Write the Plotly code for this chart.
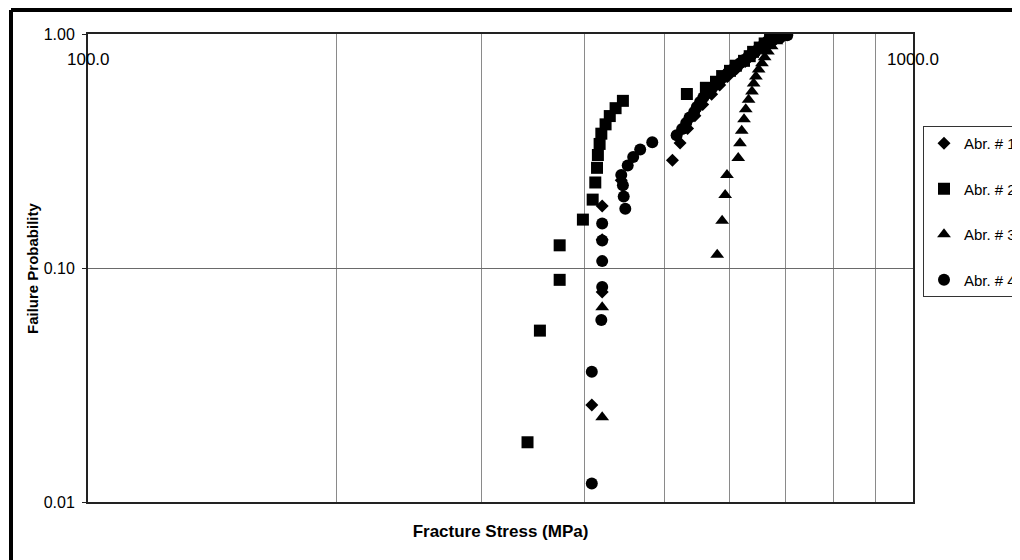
import numpy as np
import plotly.graph_objects as go

# ---- data ----
abr1_stress = [408, 420, 420, 420, 443, 511, 522, 533, 544, 556, 570, 583, 596, 611, 626, 638, 648, 661, 694]
abr1_prob = [0.026, 0.079, 0.132, 0.184, 0.237, 0.289, 0.342, 0.395, 0.447, 0.500, 0.553, 0.605, 0.658,
             0.711, 0.763, 0.816, 0.868, 0.921, 0.974]

abr2_stress = [341, 353, 373, 373, 398, 409, 412, 414, 415, 417, 419, 424, 429, 436, 445, 532, 561, 577,
               587, 600, 610, 624, 634, 640, 652, 661, 671, 682]
abr2_prob = [0.018, 0.054, 0.089, 0.125, 0.161, 0.196, 0.232, 0.268, 0.304, 0.339, 0.375, 0.411, 0.446,
             0.482, 0.518, 0.554, 0.589, 0.625, 0.661, 0.696, 0.732, 0.768, 0.804, 0.839, 0.875, 0.911,
             0.946, 0.982]

abr3_stress = [420, 420, 579, 587, 592, 595, 614, 617, 620, 624, 627, 632, 638, 641, 645, 650, 656, 661,
               667, 674, 683, 700]
abr3_prob = [0.023, 0.068, 0.114, 0.159, 0.205, 0.250, 0.295, 0.341, 0.386, 0.432, 0.477, 0.523, 0.568,
             0.614, 0.659, 0.705, 0.750, 0.795, 0.841, 0.886, 0.932, 0.977]

abr4_stress = [408, 408, 419, 420, 420, 420, 420, 448, 446, 445, 443, 451, 458, 467, 483, 517, 525, 531,
               536, 543, 547, 552, 557, 564, 570, 577, 583, 590, 596, 603, 610, 617, 624, 631, 638, 645,
               652, 659, 667, 676, 690, 704]
abr4_prob = [0.012, 0.036, 0.060, 0.083, 0.107, 0.131, 0.155, 0.179, 0.202, 0.226, 0.250, 0.274, 0.298,
             0.321, 0.345, 0.369, 0.393, 0.417, 0.440, 0.464, 0.488, 0.512, 0.536, 0.560, 0.583, 0.607,
             0.631, 0.655, 0.679, 0.702, 0.726, 0.750, 0.774, 0.798, 0.821, 0.845, 0.869, 0.893, 0.917,
             0.940, 0.964, 0.988]

series_names = ["Abr. # 1", "Abr. # 2", "Abr. # 3", "Abr. # 4"]

x_grid_vals = [100, 200, 300, 400, 500, 600, 700, 800, 900, 1000]
x_label_vals = [100, 1000]
x_label_text = ["100.0", "1000.0"]
y_tick_vals = [0.01, 0.1, 1.0]
y_tick_text = ["0.01", "0.10", "1.00"]
x_title = "Fracture Stress (MPa)"
y_title = "Failure Probability"

FONT = "Liberation Sans, Arial, sans-serif"

fig = go.Figure()
series = [
    (abr1_stress, abr1_prob, "diamond", 10),
    (abr2_stress, abr2_prob, "square", 12),
    (abr3_stress, abr3_prob, "triangle-up", 12),
    (abr4_stress, abr4_prob, "circle", 12),
]
for i, (xs, ys, sym, sz) in enumerate(series):
    fig.add_trace(go.Scatter(
        x=xs, y=ys, mode="markers", name=series_names[i],
        legendgroup=series_names[i],
        marker=dict(symbol=sym, size=sz, color="black", line=dict(width=0)),
    ))

# plot-area geometry in screen pixels (page has an 8px body margin)
L, T = 88, 34
PW, PH = 825, 468
def px(xp):
    return (xp - L) / PW
def py(yp):
    return (T + PH - yp) / PH

annotations = []
for v, t in zip(x_label_vals, x_label_text):
    annotations.append(dict(
        x=np.log10(v), xref="x", y=1, yref="paper", yanchor="top", xanchor="center",
        yshift=-14, text=t, showarrow=False, font=dict(family=FONT, size=17, color="black"),
    ))
annotations.append(dict(
    x=px(32), xref="paper", y=0.5, yref="paper", xanchor="center", yanchor="middle",
    textangle=-90, text="<b>" + y_title + "</b>", showarrow=False,
    font=dict(family=FONT, size=15, color="black"),
))

shapes = [
    dict(type="line", xref="paper", yref="paper", x0=px(11), x1=px(1080), y0=py(10), y1=py(10),
         line=dict(color="black", width=4), layer="above"),
    dict(type="line", xref="paper", yref="paper", x0=px(11), x1=px(11), y0=py(10), y1=py(600),
         line=dict(color="black", width=4), layer="above"),
]

fig.update_layout(
    width=1020, height=560,
    margin=dict(l=80, r=115, t=26, b=66, autoexpand=False),
    paper_bgcolor="white", plot_bgcolor="white",
    font=dict(family=FONT, color="black"),
    showlegend=True,
    legend=dict(
        x=px(923), y=py(126), xanchor="left", yanchor="top",
        bordercolor="#333", borderwidth=1, bgcolor="white",
        font=dict(family=FONT, size=15, color="black"),
        traceorder="grouped", tracegroupgap=23,
    ),
    annotations=annotations,
    shapes=shapes,
)

fig.update_xaxes(
    type="log", range=[2, 3],
    tickvals=x_grid_vals, showticklabels=False, ticks="",
    showgrid=True, gridcolor="#8a8a8a", gridwidth=1,
    showline=True, linecolor="#222", linewidth=2, mirror=True,
    zeroline=False,
    title=dict(text="<b>" + x_title + "</b>", font=dict(family=FONT, size=17, color="black"),
               standoff=22),
)
fig.update_yaxes(
    type="log", range=[-2, 0],
    tickvals=y_tick_vals, ticktext=y_tick_text,
    ticks="outside", ticklen=4, tickcolor="#222",
    tickfont=dict(family=FONT, size=16, color="black"),
    ticklabelstandoff=4,
    showgrid=True, gridcolor="#6a6a6a", gridwidth=1,
    showline=True, linecolor="#222", linewidth=2, mirror=True,
    zeroline=False,
)

fig.write_html("out.html")
